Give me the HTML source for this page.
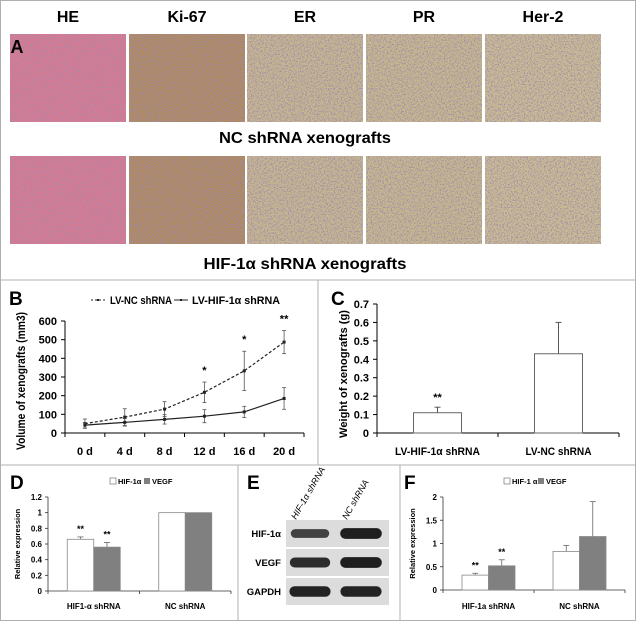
<!DOCTYPE html>
<html><head><meta charset="utf-8"><style>
html,body{margin:0;padding:0;background:#fff;}
svg{display:block;font-family:"Liberation Sans Narrow","Liberation Sans","DejaVu Sans",sans-serif;}
</style></head><body>
<svg id="fig" width="636" height="621" viewBox="0 0 636 621" xmlns="http://www.w3.org/2000/svg">
<defs>
<filter id="noise" x="0" y="0" width="100%" height="100%">
<feTurbulence type="fractalNoise" baseFrequency="0.7" numOctaves="2" seed="3" result="n"/>
<feColorMatrix in="n" type="matrix" values="0 0 0 0 0.35  0 0 0 0 0.25  0 0 0 0 0.4  0 0 0 3 -1.25" result="d"/>
<feComposite in="d" in2="SourceGraphic" operator="in" result="dd"/>
<feMerge><feMergeNode in="SourceGraphic"/><feMergeNode in="dd"/></feMerge>
</filter>
</defs>
<rect x="0.5" y="0.5" width="635" height="620" fill="#fff" stroke="#b0b0b0"/>
<line x1="0" y1="280" x2="636" y2="280" stroke="#b0b0b0"/>
<line x1="318" y1="280" x2="318" y2="465" stroke="#b0b0b0"/>
<line x1="0" y1="465" x2="636" y2="465" stroke="#b0b0b0"/>
<line x1="238" y1="465" x2="238" y2="621" stroke="#b0b0b0"/>
<line x1="400" y1="465" x2="400" y2="621" stroke="#b0b0b0"/>

<g id="panelA" font-weight="bold" font-size="16" text-anchor="middle"></g>
<g id="panelB"></g>
<g id="panelC"></g>
<g id="panelD"></g>
<g id="panelE"></g>
<g id="panelF"></g>
</svg>
<script>
// ---- data ----
const stainNames = ["HE", "Ki-67", "ER", "PR", "Her-2"];
const stainColors = ["#dc7890", "#b08a52", "#c7b88e", "#c8b98c", "#cbbd92"];
const days = ["0 d", "4 d", "8 d", "12 d", "16 d", "20 d"];
const ncVolume = [50, 85, 128, 218, 333, 487];
const ncVolumeErr = [25, 45, 40, 55, 105, 62];
const hifVolume = [42, 57, 73, 90, 113, 185];
const hifVolumeErr = [15, 20, 25, 35, 30, 58];
const volumeSig = ["", "", "", "*", "*", "**"];
const volumeTicks = [0, 100, 200, 300, 400, 500, 600];
const weightGroups = ["LV-HIF-1α shRNA", "LV-NC shRNA"];
const weightValues = [0.11, 0.43];
const weightErr = [0.03, 0.17];
const weightSig = ["**", ""];
const weightTicks = [0, 0.1, 0.2, 0.3, 0.4, 0.5, 0.6, 0.7];
const dGroups = ["HIF1-α shRNA", "NC shRNA"];
const dHif = [0.66, 1.0];
const dHifErr = [0.03, 0];
const dVegf = [0.56, 1.0];
const dVegfErr = [0.06, 0];
const dSig = ["**", ""];
const dTicks = [0, 0.2, 0.4, 0.6, 0.8, 1, 1.2];
const fGroups = ["HIF-1a shRNA", "NC shRNA"];
const fHif = [0.32, 0.83];
const fHifErr = [0.04, 0.13];
const fVegf = [0.52, 1.15];
const fVegfErr = [0.13, 0.75];
const fSig = ["**", ""];
const fTicks = [0, 0.5, 1, 1.5, 2];
const blotRows = ["HIF-1α", "VEGF", "GAPDH"];
const blotLanes = ["HIF-1α shRNA", "NC shRNA"];
const blotIntensity = [[0.55, 0.95], [0.8, 0.95], [0.9, 0.9]];

const NS = "http://www.w3.org/2000/svg";
function mk(parent, tag, attrs, text) {
  const e = document.createElementNS(NS, tag);
  for (const k in attrs) e.setAttribute(k, attrs[k]);
  if (text !== undefined) e.textContent = text;
  parent.appendChild(e);
  return e;
}
function fmt(v){ return String(Math.round(v*100)/100); }
const SQ = {lengthAdjust: "spacingAndGlyphs"};

// ---- Panel A ----
const A = document.getElementById("panelA");
const colX = [10, 129, 247, 366, 485];
const colW = 116;
stainNames.forEach((n, i) => {
  const t = mk(A, "text", {x: colX[i] + colW/2, y: 22}, n);
  
  
  [34, 156].forEach((y, r) => {
    const im = mk(A, "rect", {x: colX[i], y: y, width: colW, height: 88, fill: stainColors[i], filter: "url(#noise)"});
    
    
  });
});
let la = mk(A, "text", {x: 17, y: 53, "font-size": 18}, "A");


let c1 = mk(A, "text", {x: 305, y: 143, textLength: 172, lengthAdjust: "spacingAndGlyphs"}, "NC shRNA xenografts");


let c2 = mk(A, "text", {x: 305, y: 269, textLength: 203, lengthAdjust: "spacingAndGlyphs"}, "HIF-1α shRNA xenografts");



// ---- Panel B ----
const B = document.getElementById("panelB");
const bx0 = 65, bx1 = 304, by0 = 433, by1 = 321;
const bStep = (bx1 - bx0) / days.length;
const bX = i => bx0 + bStep * (i + 0.5);
const bY = v => by0 - (v / 600) * (by0 - by1);
let lb = mk(B, "text", {x: 9, y: 305, "font-size": 19, "font-weight": "bold"}, "B");


mk(B, "line", {x1: bx0, y1: by1, x2: bx0, y2: by0, stroke: "#000"});
mk(B, "line", {x1: bx0, y1: by0, x2: bx1, y2: by0, stroke: "#000"});
volumeTicks.forEach(v => {
  mk(B, "line", {x1: bx0-4, y1: bY(v), x2: bx0, y2: bY(v), stroke: "#000"});
  const t = mk(B, "text", {x: bx0-8, y: bY(v)+4, "font-size": 11, "font-weight": "bold", "text-anchor": "end"}, v);
  
  
});
for (let i = 0; i <= days.length; i++) mk(B, "line", {x1: bx0 + bStep*i, y1: by0, x2: bx0 + bStep*i, y2: by0+4, stroke: "#000"});
days.forEach((d, i) => {
  const t = mk(B, "text", {x: bX(i), y: 455, "font-size": 11, "font-weight": "bold", "text-anchor": "middle"}, d);
  
  
});
let byt = mk(B, "text", {x: 0, y: 0, "font-size": 11.5, "font-weight": "bold", "text-anchor": "middle", textLength: 138, lengthAdjust: "spacingAndGlyphs", transform: "translate(25,381) rotate(-90)"}, "Volume of xenografts (mm3)");


function series(vals, errs, dash, name) {
  const g = mk(B, "g", {});
  
  
  mk(g, "path", {d: vals.map((v,i)=>(i?"L":"M")+bX(i)+","+bY(v)).join(""), fill: "none", stroke: "#222", "stroke-width": 1.2, "stroke-dasharray": dash});
  vals.forEach((v,i) => {
    mk(g, "line", {x1: bX(i), y1: bY(v+errs[i]), x2: bX(i), y2: bY(v-errs[i]), stroke: "#555", "stroke-width": 0.8});
    mk(g, "line", {x1: bX(i)-2, y1: bY(v+errs[i]), x2: bX(i)+2, y2: bY(v+errs[i]), stroke: "#555", "stroke-width": 0.8});
    mk(g, "line", {x1: bX(i)-2, y1: bY(v-errs[i]), x2: bX(i)+2, y2: bY(v-errs[i]), stroke: "#555", "stroke-width": 0.8});
    mk(g, "rect", {x: bX(i)-1.5, y: bY(v)-1.5, width: 3, height: 3, fill: "#222"});
  });
}
series(ncVolume, ncVolumeErr, "3,2", "series-lv-nc");
series(hifVolume, hifVolumeErr, "none", "series-lv-hif");
volumeSig.forEach((s, i) => {
  if (!s) return;
  const t = mk(B, "text", {x: bX(i), y: bY(ncVolume[i]+ncVolumeErr[i]) - 8, "font-size": 11, "font-weight": "bold", "text-anchor": "middle"}, s);
  
  
});
const lg = mk(B, "g", {});


mk(lg, "line", {x1: 91, y1: 300, x2: 105, y2: 300, stroke: "#222", "stroke-dasharray": "2,2"});
mk(lg, "rect", {x: 97, y: 299, width: 2, height: 2, fill: "#222"});
mk(lg, "text", {x: 110, y: 304, "font-size": 11, "font-weight": "bold", textLength: 62, lengthAdjust: "spacingAndGlyphs"}, "LV-NC shRNA");
mk(lg, "line", {x1: 174, y1: 300, x2: 188, y2: 300, stroke: "#222"});
mk(lg, "rect", {x: 180, y: 299, width: 2, height: 2, fill: "#222"});
mk(lg, "text", {x: 192, y: 304, "font-size": 11, "font-weight": "bold", textLength: 88, lengthAdjust: "spacingAndGlyphs"}, "LV-HIF-1α shRNA");

// ---- Panel C ----
const C = document.getElementById("panelC");
const cx0 = 377, cx1 = 619, cy0 = 433, cy1 = 304;
const cY = v => cy0 - (v / 0.7) * (cy0 - cy1);
const cStep = (cx1 - cx0) / weightGroups.length;
const cX = i => cx0 + cStep * (i + 0.5);
const cLabelLen = [85, 66];
let lc = mk(C, "text", {x: 331, y: 305, "font-size": 19, "font-weight": "bold"}, "C");


mk(C, "line", {x1: cx0, y1: cy1, x2: cx0, y2: cy0, stroke: "#000"});
mk(C, "line", {x1: cx0, y1: cy0, x2: cx1, y2: cy0, stroke: "#000"});
weightTicks.forEach(v => {
  mk(C, "line", {x1: cx0-4, y1: cY(v), x2: cx0, y2: cY(v), stroke: "#000"});
  const t = mk(C, "text", {x: cx0-8, y: cY(v)+4, "font-size": 11, "font-weight": "bold", "text-anchor": "end"}, fmt(v));
  
  
});
for (let i = 0; i <= weightGroups.length; i++) mk(C, "line", {x1: cx0 + cStep*i, y1: cy0, x2: cx0 + cStep*i, y2: cy0+4, stroke: "#000"});
let cyt = mk(C, "text", {x: 0, y: 0, "font-size": 11, "font-weight": "bold", "text-anchor": "middle", textLength: 128, lengthAdjust: "spacingAndGlyphs", transform: "translate(347,374) rotate(-90)"}, "Weight of xenografts (g)");


weightGroups.forEach((g, i) => {
  const bw = 48, x = cX(i) - bw/2, v = weightValues[i], e = weightErr[i];
  mk(C, "line", {x1: cX(i), y1: cY(v+e), x2: cX(i), y2: cY(v), stroke: "#555"});
  mk(C, "line", {x1: cX(i)-3, y1: cY(v+e), x2: cX(i)+3, y2: cY(v+e), stroke: "#555"});
  const r = mk(C, "rect", {x: x, y: cY(v), width: bw, height: cy0 - cY(v), fill: "#fff", stroke: "#666"});
  
  
  const t = mk(C, "text", {x: cX(i), y: 455, "font-size": 11, "font-weight": "bold", "text-anchor": "middle", textLength: cLabelLen[i], lengthAdjust: "spacingAndGlyphs"}, g);
  
  
  if (weightSig[i]) {
    const s = mk(C, "text", {x: cX(i), y: cY(v+e) - 6, "font-size": 11, "font-weight": "bold", "text-anchor": "middle"}, weightSig[i]);
    
    
  }
});

// ---- grouped bar helper for D and F ----
function grouped(P, cfg) {
  const {x0, x1, y0, y1, max, ticks, groups, a, ae, b, be, sig, label, lx, legendX, legendA} = cfg;
  const Y = v => y0 - (v / max) * (y0 - y1);
  const step = (x1 - x0) / groups.length;
  const X = i => x0 + step * (i + 0.5);
  const L = mk(P, "text", {x: lx, y: 489, "font-size": 19, "font-weight": "bold"}, label);
  
  
  mk(P, "line", {x1: x0, y1: y1, x2: x0, y2: y0, stroke: "#333", "stroke-width": 0.8});
  mk(P, "line", {x1: x0, y1: y0, x2: x1, y2: y0, stroke: "#333", "stroke-width": 0.8});
  ticks.forEach(v => {
    mk(P, "line", {x1: x0-3, y1: Y(v), x2: x0, y2: Y(v), stroke: "#333", "stroke-width": 0.8});
    const t = mk(P, "text", {x: x0-6, y: Y(v)+3, "font-size": 8, "font-weight": "bold", "text-anchor": "end"}, fmt(v));
    
    
  });
  for (let i = 0; i <= groups.length; i++) mk(P, "line", {x1: x0 + step*i, y1: y0, x2: x0 + step*i, y2: y0+3, stroke: "#333", "stroke-width": 0.8});
  const yt = mk(P, "text", {x: 0, y: 0, "font-size": 7.5, "font-weight": "bold", "text-anchor": "middle", transform: "translate(" + (x0-28) + "," + ((y0+y1)/2) + ") rotate(-90)"}, "Relative expression");
  
  
  const bw = 26.5;
  groups.forEach((g, i) => {
    [[a, ae, "#fff"], [b, be, "#808080"]].forEach(([arr, err, fill], k) => {
      const bx = X(i) - bw + k*bw, cx = bx + bw/2, v = arr[i], e = err[i];
      if (e > 0) {
        mk(P, "line", {x1: cx, y1: Y(v+e), x2: cx, y2: Y(v), stroke: "#666", "stroke-width": 0.8});
        mk(P, "line", {x1: cx-3, y1: Y(v+e), x2: cx+3, y2: Y(v+e), stroke: "#666", "stroke-width": 0.8});
      }
      const r = mk(P, "rect", {x: bx, y: Y(v), width: bw, height: y0 - Y(v), fill: fill, stroke: "#888", "stroke-width": 0.8});
      
      
      if (sig[i]) {
        const s = mk(P, "text", {x: cx, y: Y(v+e) - 5, "font-size": 9, "font-weight": "bold", "text-anchor": "middle"}, sig[i]);
        
        
      }
    });
    const t = mk(P, "text", {x: X(i), y: 609, "font-size": 8, "font-weight": "bold", "text-anchor": "middle"}, g);
    
    
  });
  const lgd = mk(P, "g", {});
  
  
  mk(lgd, "rect", {x: legendX, y: 478, width: 6, height: 6, fill: "#fff", stroke: "#777", "stroke-width": 0.7});
  mk(lgd, "text", {x: legendX+8, y: 484, "font-size": 7.5, "font-weight": "bold"}, legendA);
  mk(lgd, "rect", {x: legendX+34, y: 478, width: 6, height: 6, fill: "#808080"});
  mk(lgd, "text", {x: legendX+42, y: 484, "font-size": 7.5, "font-weight": "bold"}, "VEGF");
}
grouped(document.getElementById("panelD"), {x0: 48, x1: 231, y0: 591, y1: 497, max: 1.2, ticks: dTicks, groups: dGroups, a: dHif, ae: dHifErr, b: dVegf, be: dVegfErr, sig: dSig, label: "D", lx: 10, legendX: 110, legendA: "HIF-1α"});
grouped(document.getElementById("panelF"), {x0: 443, x1: 625, y0: 590, y1: 497, max: 2, ticks: fTicks, groups: fGroups, a: fHif, ae: fHifErr, b: fVegf, be: fVegfErr, sig: fSig, label: "F", lx: 404, legendX: 504, legendA: "HIF-1 α"});

// ---- Panel E ----
const E = document.getElementById("panelE");
let le = mk(E, "text", {x: 247, y: 489, "font-size": 19, "font-weight": "bold"}, "E");


const laneX = [310, 361];
blotLanes.forEach((n, j) => {
  const t = mk(E, "text", {x: 0, y: 0, "font-size": 9, "font-style": "italic", transform: "translate(" + (laneX[j]-14) + ",520) rotate(-60)"}, n);
  
  
});
blotRows.forEach((r, i) => {
  const y = 520 + i * 29;
  const box = mk(E, "rect", {x: 286, y: y, width: 103, height: 27, fill: "#dcdcdc"});
  
  
  const t = mk(E, "text", {x: 281, y: y + 17, "font-size": 9.5, "font-weight": "bold", "text-anchor": "end"}, r);
  
  
  blotIntensity[i].forEach((v, j) => {
    const h = 6 + v * 5, w = 34 + v * 8;
    const b = mk(E, "rect", {x: laneX[j] - w/2, y: y + 13.5 - h/2, width: w, height: h, rx: h/2, fill: "#1a1a1a", opacity: 0.55 + v*0.45});
    
    
  });
});
</script>
</body></html>
